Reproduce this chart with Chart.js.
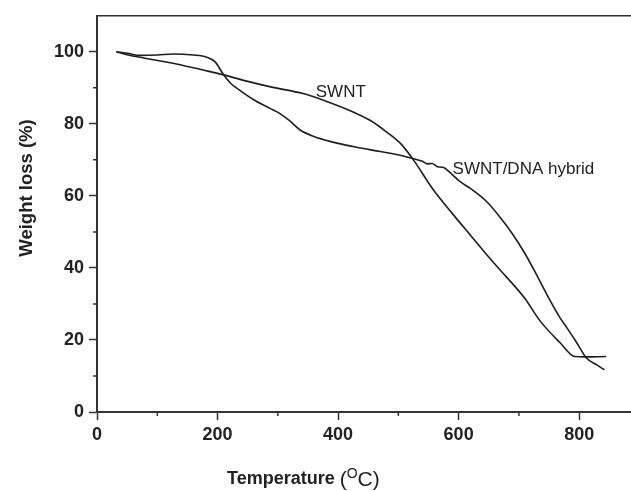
<!DOCTYPE html>
<html>
<head>
    <title>TGA of SWNT and SWNT/DNA hybrid</title>
    <script src="https://cdn.jsdelivr.net/npm/chart.js"></script>
    <style>
        body { margin: 0; background: #fff; }
    </style>
</head>
<body>
    <canvas id="tgaChart" width="631" height="491"></canvas>
    <script>
        // values (temperature in C, weight in %)
        const swntTemp = [32, 50, 77, 110, 143, 180, 210, 250, 290, 342, 380, 425, 455, 480, 505, 525, 558, 591, 620, 646, 670, 690, 710, 735, 768, 793, 810, 845];
        const swntWeight = [100, 99.2, 98.3, 97.3, 96.2, 94.8, 93.6, 91.8, 90.2, 88.4, 86.3, 83.3, 80.8, 77.8, 74.3, 70.0, 61.7, 54.8, 49.0, 43.8, 39.2, 35.5, 31.5, 25.3, 19.3, 15.4, 15.3, 15.4];

        const hybridTemp = [32, 50, 71, 100, 126, 160, 182, 196, 209, 222, 237, 260, 287, 303, 320, 337, 360, 390, 425, 470, 505, 525, 540, 548, 556, 565, 575, 585, 602, 620, 646, 670, 690, 710, 729, 750, 768, 780, 795, 812, 830, 842];
        const hybridWeight = [100, 99.6, 99.0, 99.1, 99.4, 99.1, 98.5, 97.2, 93.9, 91.2, 89.3, 86.7, 84.3, 82.9, 80.8, 78.3, 76.5, 75.0, 73.7, 72.3, 71.2, 70.3, 69.6, 68.9, 69.0, 68.1, 67.9, 66.6, 64.0, 62.0, 58.5, 53.8, 49.3, 44.0, 38.2, 31.5, 26.2, 23.3, 19.5, 15.0, 13.0, 11.7];

        const seriesNames = ['SWNT', 'SWNT/DNA hybrid'];

        const toPoints = (xs, ys) => xs.map((x, i) => ({ x: x, y: ys[i] }));

        const fontFamily = '"Liberation Sans", Arial, sans-serif';
        const axisColor = '#333';

        // curve labels, minor ticks, frame top and axis titles
        const extras = {
            id: 'extras',
            afterDraw(chart) {
                const ctx = chart.ctx;
                const area = chart.chartArea;
                const xs = chart.scales.x;
                const ys = chart.scales.y;
                ctx.save();

                ctx.strokeStyle = axisColor;
                ctx.lineWidth = 1.5;
                ctx.beginPath();
                ctx.moveTo(area.left, area.top);
                ctx.lineTo(area.right, area.top);
                ctx.stroke();

                // minor ticks
                ctx.beginPath();
                for (let v = 100; v < xs.max; v += 200) {
                    const px = xs.getPixelForValue(v);
                    ctx.moveTo(px, area.bottom);
                    ctx.lineTo(px, area.bottom + 4);
                }
                for (let v = 10; v < ys.max; v += 20) {
                    const py = ys.getPixelForValue(v);
                    ctx.moveTo(area.left, py);
                    ctx.lineTo(area.left - 4, py);
                }
                ctx.stroke();

                // curve labels
                ctx.fillStyle = '#222';
                ctx.font = '17px ' + fontFamily;
                ctx.textBaseline = 'alphabetic';
                ctx.fillText(seriesNames[0], xs.getPixelForValue(363), ys.getPixelForValue(87.5));
                ctx.fillText(seriesNames[1], xs.getPixelForValue(590), ys.getPixelForValue(66));

                // y title
                ctx.save();
                ctx.translate(27, 188);
                ctx.rotate(-Math.PI / 2);
                ctx.font = 'bold 18.5px ' + fontFamily;
                ctx.textAlign = 'center';
                ctx.textBaseline = 'middle';
                ctx.fillText('Weight loss (%)', 0, 0);
                ctx.restore();

                // x title with superscript
                let x = 227;
                const base = 484;
                ctx.textAlign = 'left';
                ctx.font = 'bold 18px ' + fontFamily;
                ctx.fillText('Temperature ', x, base);
                x += ctx.measureText('Temperature ').width;
                ctx.font = '21px ' + fontFamily;
                ctx.fillText('(', x, base + 2);
                x += ctx.measureText('(').width;
                ctx.font = '14px ' + fontFamily;
                ctx.fillText('O', x, base - 6);
                x += ctx.measureText('O').width;
                ctx.font = '21px ' + fontFamily;
                ctx.fillText('C', x, base + 2);
                x += ctx.measureText('C').width;
                ctx.fillText(')', x, base + 2);

                ctx.restore();
            }
        };

        const lineStyle = {
            borderColor: '#1e1e1e',
            borderWidth: 1.6,
            pointRadius: 0,
            fill: false,
            tension: 0.3,
            cubicInterpolationMode: 'monotone'
        };

        new Chart(document.getElementById('tgaChart').getContext('2d'), {
            type: 'line',
            data: {
                datasets: [
                    Object.assign({ label: seriesNames[0], data: toPoints(swntTemp, swntWeight) }, lineStyle),
                    Object.assign({ label: seriesNames[1], data: toPoints(hybridTemp, hybridWeight) }, lineStyle)
                ]
            },
            options: {
                responsive: false,
                animation: false,
                layout: { padding: { top: 14, right: 0, left: 0, bottom: 0 } },
                plugins: {
                    legend: { display: false },
                    tooltip: { enabled: false }
                },
                scales: {
                    x: {
                        type: 'linear',
                        min: 0,
                        max: 886,
                        afterBuildTicks: s => { s.ticks = s.ticks.filter(t => t.value % 200 === 0); },
                        afterFit: s => { s.height = 79; },
                        ticks: {
                            stepSize: 100,
                            padding: 4,
                            color: '#222',
                            font: { family: fontFamily, size: 18, weight: 'bold' },
                            maxRotation: 0
                        },
                        grid: { drawOnChartArea: false, tickLength: 8, tickColor: axisColor, tickWidth: 1.5 },
                        border: { color: axisColor, width: 2 }
                    },
                    y: {
                        min: 0,
                        max: 110,
                        afterBuildTicks: s => { s.ticks = s.ticks.filter(t => t.value % 20 === 0 && t.value <= 100); },
                        afterFit: s => { s.width = 97; },
                        ticks: {
                            stepSize: 10,
                            padding: 5,
                            color: '#222',
                            font: { family: fontFamily, size: 18, weight: 'bold' }
                        },
                        grid: { drawOnChartArea: false, tickLength: 8, tickColor: axisColor, tickWidth: 1.5 },
                        border: { color: axisColor, width: 2 }
                    }
                }
            },
            plugins: [extras]
        });
    </script>
</body>
</html>
